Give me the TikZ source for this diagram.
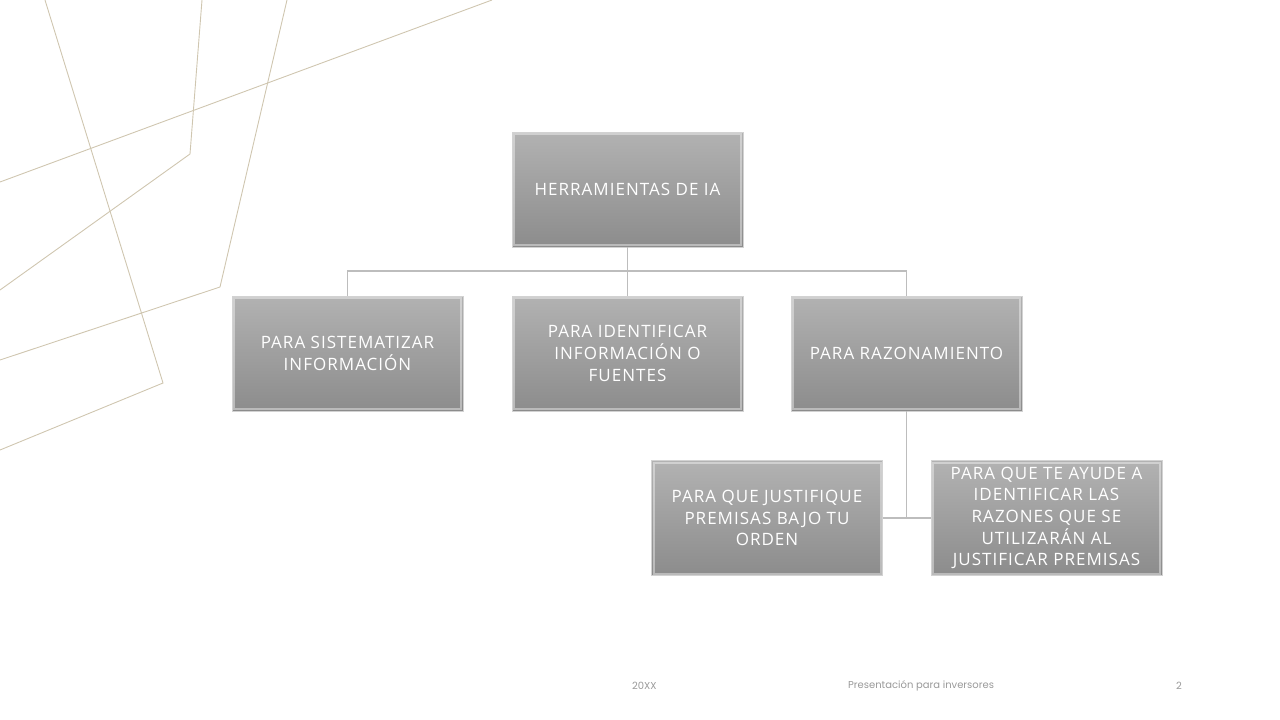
\documentclass[tikz,border=0pt]{standalone}
\usepackage{fontspec}
\setmainfont{Open Sans}
\newfontfamily\boxfont[LetterSpace=6]{Open Sans}
\newfontfamily\footfont{Poppins}
\usepackage{tikz}

\definecolor{linetan}{HTML}{CFC6B0}
\definecolor{boxtop}{HTML}{B2B2B2}
\definecolor{boxbottom}{HTML}{8C8C8C}
\definecolor{connector}{HTML}{BDBDBD}

\begin{document}
\begin{tikzpicture}[x=1pt,y=-1pt,
    box/.style={rectangle,minimum width=231pt,minimum height=115pt,inner sep=0pt,
        top color=boxtop,bottom color=boxbottom,draw=gray!35,line width=0.8pt,
        text=white,align=center,font=\boxfont\fontsize{17}{21.7}\selectfont,
        path picture={\draw[white,opacity=0.4,line width=2pt]
            ([shift={(2pt,2pt)}]path picture bounding box.south west) rectangle
            ([shift={(-2pt,-2pt)}]path picture bounding box.north east);}},
    foot/.style={font=\footfont\fontsize{10}{12}\selectfont,text=gray!80,anchor=west,inner sep=0pt}]
    \useasboundingbox (0,0) rectangle (1280,720);

    % background lines
    \begin{scope}[linetan,line width=0.9pt]
       \draw (45,0) -- (163,383) -- (0,450);
       \draw (202,0) -- (190,154) -- (0,290);
       \draw (287,0) -- (220,287) -- (0,360);
       \draw (492,0) -- (0,182);
    \end{scope}

    \node[box] (Herramientas) at (627.5,189.5) {HERRAMIENTAS DE IA};
    \node[box] (Sistematizar) at (347.5,353.5) {PARA SISTEMATIZAR\\INFORMACIÓN};
    \node[box] (Identificar) at (627.5,353.5) {PARA IDENTIFICAR\\INFORMACIÓN O\\FUENTES};
    \node[box] (Razonamiento) at (906.5,353.5) {PARA RAZONAMIENTO};
    \node[box] (Justifique) at (767,518) {PARA QUE JUSTIFIQUE\\PREMISAS BAJO TU\\ORDEN};
    \node[box] (Ayude) at (1046.5,518) {PARA QUE TE AYUDE A\\IDENTIFICAR LAS\\RAZONES QUE SE\\UTILIZARÁN AL\\JUSTIFICAR PREMISAS};

    \coordinate (Bus) at (627.5,271);
    \coordinate (Junta) at (906.5,518);

    \begin{scope}[every path/.style={draw=connector,line width=1.6pt}]
       \draw (Herramientas) -- (Bus);
       \draw (Bus) -| (Sistematizar);
       \draw (Bus) -- (Identificar);
       \draw (Bus) -| (Razonamiento);
       \draw (Razonamiento) -- (Junta);
       \draw (Justifique) -- (Ayude);
    \end{scope}

    % footer
    \node[foot] (Year) at (632,686) {20XX};
    \node[foot] (Title) at (848,686) {Presentación para inversores};
    \node[foot] (Page) at (1176,686) {2};
\end{tikzpicture}
\end{document}
